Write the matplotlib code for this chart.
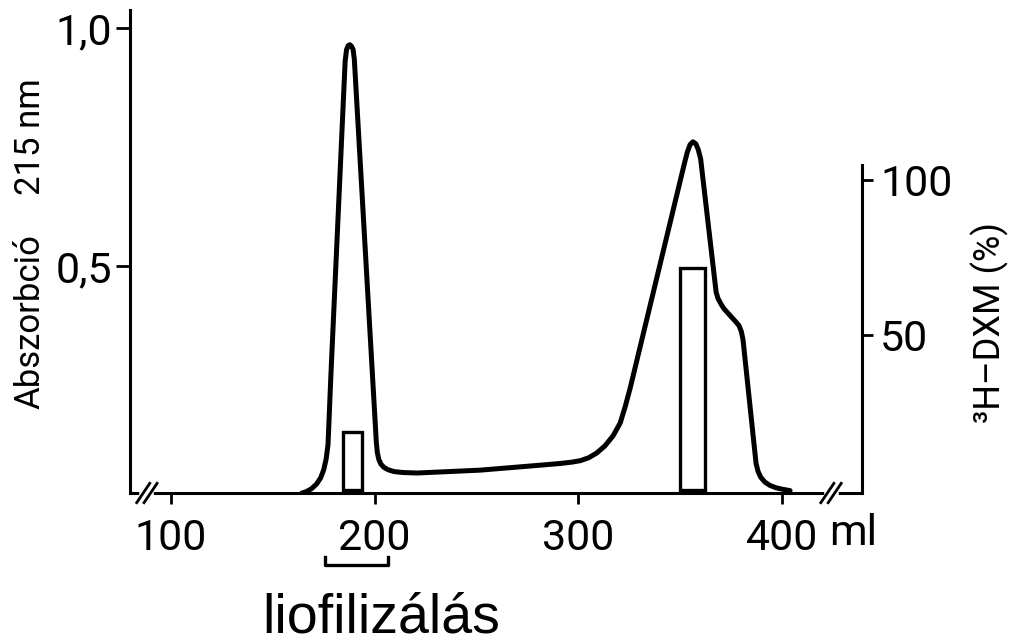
import matplotlib
matplotlib.use("Agg")
import matplotlib.pyplot as plt
import matplotlib.transforms as mtransforms

plt.rcParams['font.family'] = ['Roboto', 'DejaVu Sans']

# absorption curve (ml, A215)
vol = [164.3, 166.5, 169, 171.5, 173.5, 175, 176.2, 177.1, 178.5,
       185.5, 186.2, 187.0, 187.8, 188.6, 189.4, 190.0,
       200.8, 201.3, 202.0, 203.0, 204.5, 206.5, 209.5, 214, 220.8,
       251.7, 280, 291, 297, 301, 305, 309, 313, 317, 320.5, 323, 325.5,
       352, 353.5, 354.8, 356.2, 357.6, 358.8, 360,
       367.6, 368.5, 370, 371.5, 377.2, 378.8, 380, 380.8,
       387.2, 388.2, 389.5, 391.5, 394, 397, 400, 403.9]
absorb = [0.023, 0.026, 0.032, 0.042, 0.055, 0.072, 0.095, 0.125, 0.27,
          0.93, 0.955, 0.963, 0.965, 0.962, 0.955, 0.935,
          0.13, 0.108, 0.094, 0.084, 0.077, 0.072, 0.068, 0.066, 0.065,
          0.071, 0.081, 0.085, 0.088, 0.091, 0.097, 0.107, 0.122, 0.143, 0.170, 0.205, 0.245,
          0.715, 0.740, 0.755, 0.761, 0.757, 0.745, 0.725,
          0.445, 0.432, 0.420, 0.410, 0.383, 0.375, 0.362, 0.345,
          0.085, 0.068, 0.056, 0.046, 0.039, 0.034, 0.031, 0.028]

# 3H-DXM fractions (%)
bar_center = [189.1, 356.0]
bar_width = [9.4, 12.3]
bar_value = [18.7, 71.6]

# lyophilized fraction range
lyo_range = [175.6, 206.5]

x_ticks = [100, 200, 300, 400]
left_ticks = [0.5, 1.0]
left_labels = ["0,5", "1,0"]
right_ticks = [50, 100]

fig = plt.figure(figsize=(10.16, 6.43), dpi=100)
ax = fig.add_axes([130 / 1016, 150 / 643, 732 / 1016, 483 / 643])
ax2 = ax.twinx()

ax.plot(vol, absorb, color="black", lw=3.6, solid_joinstyle="round",
        solid_capstyle="round", zorder=3)
ax2.bar(bar_center, bar_value, width=bar_width, fill=False, edgecolor="black",
        linewidth=2.4, zorder=2)

ax.set_xlim(79.9, 439.2)
ax.set_ylim(0.023, 1.038)
ax2.set_ylim(-0.97, 154.8)

for s in ["top", "right"]:
    ax.spines[s].set_visible(False)
for s in ["top", "left", "bottom"]:
    ax2.spines[s].set_visible(False)
ax.spines["left"].set_linewidth(2.2)
ax.spines["bottom"].set_linewidth(2.2)
ax2.spines["right"].set_linewidth(2.2)
ax2.spines["right"].set_bounds(-0.97, 104.8)

ax.set_xticks(x_ticks)
ax.set_xticklabels([str(t) for t in x_ticks])
ax.set_yticks(left_ticks)
ax.set_yticklabels(left_labels)
ax2.set_yticks(right_ticks)
ax2.set_yticklabels([str(t) for t in right_ticks])

ax.tick_params(axis="x", direction="out", length=8, width=2, pad=10, labelsize=31)
ax.tick_params(axis="y", direction="out", length=10, width=2, pad=3, labelsize=31)
ax2.tick_params(axis="y", direction="out", length=8, width=2, pad=5, labelsize=31)

trans = mtransforms.blended_transform_factory(ax.transData, ax.transAxes)

# "ml" unit after the last tick label
ax.text(434.8, -0.042, "ml", transform=trans, ha="center", va="top", fontsize=31)

# axis breaks
for bx in [88.2, 424.0]:
    ax.plot([bx - 2.2, bx + 2.2], [0, 0], transform=trans, color="white", lw=4,
            clip_on=False, zorder=5)
    for off in [-1.8, 1.8]:
        ax.plot([bx + off - 3.2, bx + off + 3.2], [-0.02, 0.02], transform=trans,
                color="black", lw=2, clip_on=False, zorder=6)

# lyophilization bracket
ax.plot([lyo_range[0], lyo_range[0], lyo_range[1], lyo_range[1]],
        [-0.132, -0.149, -0.149, -0.132], transform=trans, color="black", lw=2.4,
        clip_on=False)
ax.text(203, -0.26, "liofilizálás", transform=trans, ha="center", va="center",
        fontsize=40, family=['Liberation Sans', 'DejaVu Sans'])

fig.text(30 / 1016, 1 - 322 / 643, "Abszorbció", rotation=90, ha="center",
         va="center", fontsize=25)
fig.text(30 / 1016, 1 - 137 / 643, "215 nm", rotation=90, ha="center",
         va="center", fontsize=25)
fig.text(990 / 1016, 1 - 322 / 643, "³H–DXM (%)", rotation=90, ha="center",
         va="center", fontsize=26)

fig.savefig("out.png", dpi=100)
